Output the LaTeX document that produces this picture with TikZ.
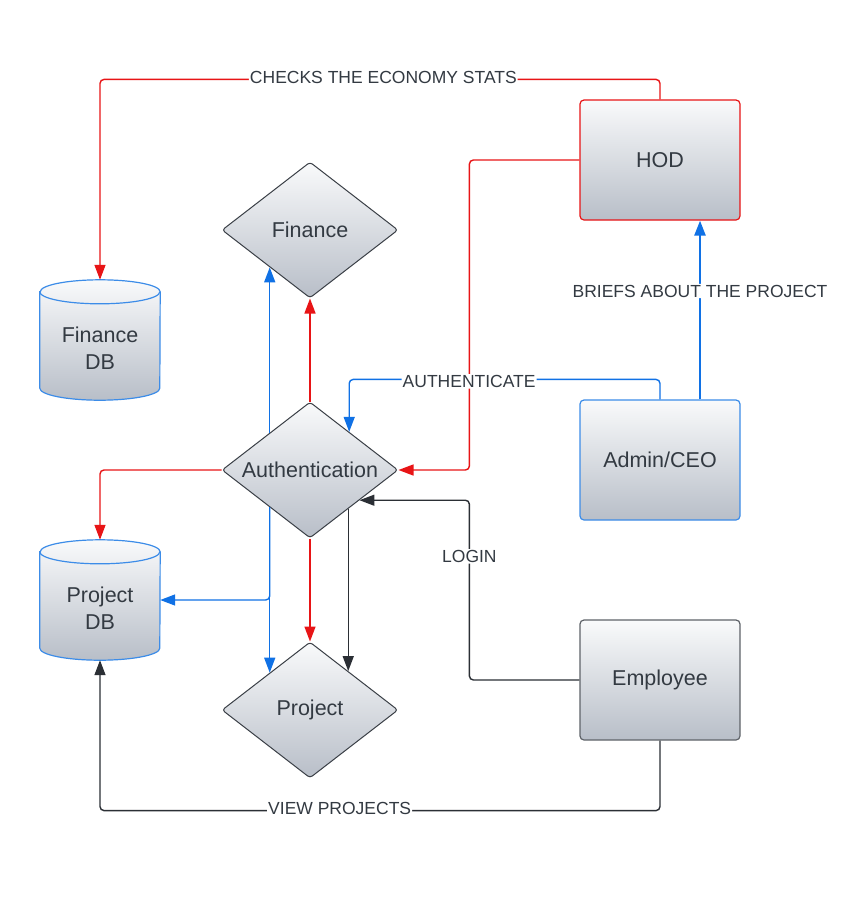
\documentclass[tikz,border=0pt]{standalone}
\usepackage{fontspec}
\setmainfont{Liberation Sans}
\usetikzlibrary{shapes.geometric,arrows.meta,calc}
\definecolor{cred}{HTML}{E81416}
\definecolor{cblue}{HTML}{1071E5}
\definecolor{cdark}{HTML}{2B2F35}
\definecolor{gtop}{HTML}{F9FAFB}
\definecolor{gbot}{HTML}{B8BEC8}
\definecolor{ctext}{HTML}{333A42}
\definecolor{cdborder}{HTML}{3A3F46}
\definecolor{cgborder}{HTML}{5F6369}
\definecolor{cbborder}{HTML}{3C8CE8}
\newcommand{\ndfont}{\fontsize{21.5}{27}\selectfont}
\newcommand{\lbfont}{\fontsize{17.5}{21}\selectfont}
\newcommand{\dbcyl}[1]{%
  \path[top color=gtop,bottom color=gbot,draw=cbborder,line width=1.2pt]
    ($(#1.north west)+(0,-12)$) -- ($(#1.south west)+(0,12)$)
    arc[start angle=180,end angle=360,x radius=60,y radius=12]
    -- ($(#1.north east)+(0,-12)$)
    arc[start angle=0,end angle=180,x radius=60,y radius=12] -- cycle;
  \draw[cbborder,line width=1.2pt] ($(#1.north west)+(0,-12)$)
    arc[start angle=180,end angle=360,x radius=60,y radius=12];}
\begin{document}
\begin{tikzpicture}[x=1pt,y=1pt,
  box/.style={rectangle, rounded corners=4pt, minimum width=160pt, minimum height=120pt, inner sep=0pt, top color=gtop, bottom color=gbot, line width=1.2pt, font=\ndfont, text=ctext},
  dia/.style={diamond, shape aspect=1.294, rounded corners=3pt, minimum width=176pt, minimum height=136pt, inner sep=0pt, draw=cdborder, line width=1pt, top color=gtop, bottom color=gbot, font=\ndfont, text=ctext},
  dbbox/.style={rectangle, minimum width=120pt, minimum height=120pt, inner sep=0pt},
  dbtext/.style={inner sep=0pt, align=center, font=\ndfont, text=ctext},
  conn/.style={line width=1.4pt, rounded corners=4pt, -{Triangle[length=15pt,width=11pt]}},
  lbl/.style={fill=white, inner sep=1pt, font=\lbfont, text=ctext},
]
\fill[white] (0,0) rectangle (864,-906);
\useasboundingbox (0,0) rectangle (864,-906);

% nodes
\node[box, draw=cred] (hod) at (660,-160) {HOD};
\node[box, draw=cbborder] (admin) at (660,-460) {Admin/CEO};
\node[box, draw=cgborder] (emp) at (660,-680) {Employee};
\node[dia] (fin) at (310,-230) {Finance};
\node[dia] (auth) at (310,-470) {Authentication};
\node[dia] (proj) at (310,-710) {Project};
\node[dbbox] (fdb) at (100,-340) {};
\dbcyl{fdb}
\node[dbtext] (fdbt) at (100,-348) {Finance\\DB};
\node[dbbox] (pdb) at (100,-600) {};
\dbcyl{pdb}
\node[dbtext] (pdbt) at (100,-608) {Project\\DB};

% edge points
\coordinate (finL) at ($(fin.west)!0.545!(fin.south)$);
\coordinate (authUL) at ($(auth.west)!0.545!(auth.north)$);
\coordinate (authLL) at ($(auth.west)!0.545!(auth.south)$);
\coordinate (authUR) at ($(auth.north)!0.443!(auth.east)$);
\coordinate (authLR) at ($(auth.east)!0.568!(auth.south)$);
\coordinate (authLR2) at ($(auth.east)!0.441!(auth.south)$);
\coordinate (projUL) at ($(proj.north)!0.455!(proj.west)$);
\coordinate (projUR) at ($(proj.north)!0.432!(proj.east)$);

% connectors
\draw[conn,cred] (hod.north) -- ++(0,20) -| node[lbl,pos=0.247,yshift=2pt]{CHECKS THE ECONOMY STATS} (fdb.north);
\draw[conn,cred] (hod.west) -- ++(-110,0) |- (auth.east);
\draw[conn,cblue,line width=2.5pt] ($(admin.north)+(40,0)$) -- node[lbl,pos=0.606]{BRIEFS ABOUT THE PROJECT} ($(hod.south)+(40,0)$);
\draw[conn,cblue] (admin.north) -- ++(0,20) -| node[lbl,pos=0.307,yshift=-2pt]{AUTHENTICATE} (authUR);
\draw[conn,cred] (auth.north) -- (fin.south);
\draw[conn,cblue] (authUL) -- (finL);
\draw[conn,cblue] (authLL) -- (projUL);
\draw[conn,cblue] (authLL) |- (pdb.east);
\draw[conn,cred] (auth.south) -- (proj.north);
\draw[conn,cred] (auth.west) -| (pdb.north);
\draw[conn,cdark] (authLR) -- (projUR);
\draw[conn,cdark] (emp.west) -- ++(-110,0) |- node[lbl,pos=0.344]{LOGIN} (authLR2);
\draw[conn,cdark] (emp.south) -- ++(0,-70) -| node[lbl,pos=0.286,yshift=2pt]{VIEW PROJECTS} (pdb.south);
\end{tikzpicture}
\end{document}
